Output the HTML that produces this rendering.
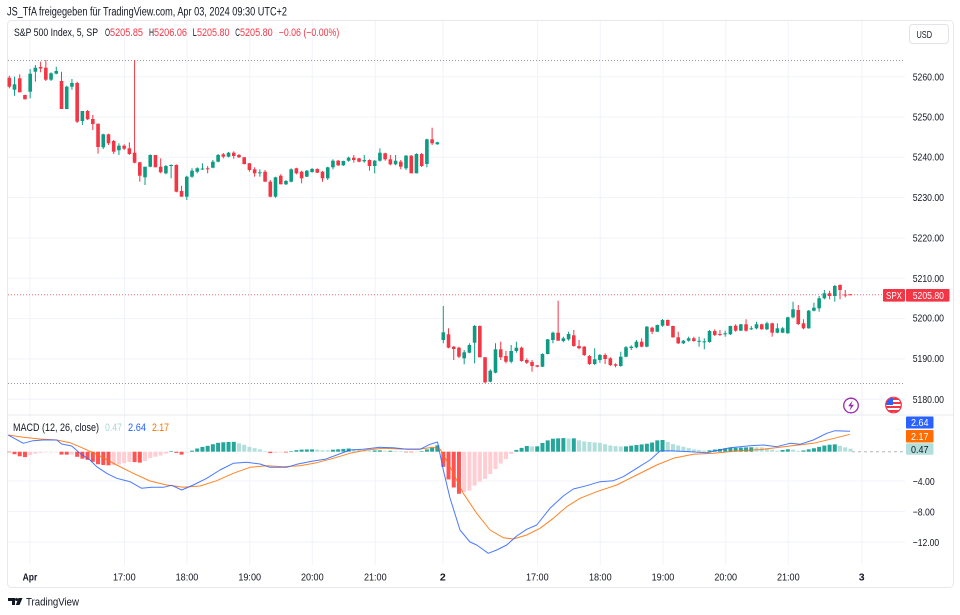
<!DOCTYPE html>
<html><head><meta charset="utf-8">
<style>
html,body{margin:0;padding:0;background:#fff;width:960px;height:615px;overflow:hidden}
svg{display:block;font-family:"Liberation Sans",sans-serif}
</style></head><body>
<svg id="c" width="960" height="615" viewBox="0 0 960 615" xmlns="http://www.w3.org/2000/svg">
<rect x="0" y="0" width="960" height="615" fill="#ffffff"/>
<rect x="7.5" y="20.5" width="946" height="567" rx="4" fill="#fff" stroke="#e6e8ee"/>
<g stroke="#f0f3fa" stroke-width="1">
<line x1="8" x2="905" y1="76.7" y2="76.7"/><line x1="8" x2="905" y1="117" y2="117"/><line x1="8" x2="905" y1="157.3" y2="157.3"/><line x1="8" x2="905" y1="197.6" y2="197.6"/><line x1="8" x2="905" y1="237.9" y2="237.9"/><line x1="8" x2="905" y1="278.3" y2="278.3"/><line x1="8" x2="905" y1="318.6" y2="318.6"/><line x1="8" x2="905" y1="358.9" y2="358.9"/><line x1="8" x2="905" y1="399.2" y2="399.2"/>
<line x1="8" x2="905" y1="481" y2="481"/><line x1="8" x2="905" y1="511.5" y2="511.5"/><line x1="8" x2="905" y1="542" y2="542"/>
<line x1="30" x2="30" y1="21" y2="565"/><line x1="124.5" x2="124.5" y1="21" y2="565"/><line x1="187" x2="187" y1="21" y2="565"/><line x1="249.7" x2="249.7" y1="21" y2="565"/><line x1="312.3" x2="312.3" y1="21" y2="565"/><line x1="375.3" x2="375.3" y1="21" y2="565"/><line x1="443" x2="443" y1="21" y2="565"/><line x1="537.5" x2="537.5" y1="21" y2="565"/><line x1="600.3" x2="600.3" y1="21" y2="565"/><line x1="663" x2="663" y1="21" y2="565"/><line x1="725.7" x2="725.7" y1="21" y2="565"/><line x1="788.3" x2="788.3" y1="21" y2="565"/><line x1="862" x2="862" y1="21" y2="565"/>
</g>
<line x1="8" x2="953" y1="415" y2="415" stroke="#e6e8ee"/>
<line x1="8" x2="905" y1="60.5" y2="60.5" stroke="#9598a1" stroke-dasharray="1,2"/>
<line x1="8" x2="905" y1="383.5" y2="383.5" stroke="#9598a1" stroke-dasharray="1,2"/>
<line x1="8" x2="883" y1="294.8" y2="294.8" stroke="#F23645" stroke-opacity="0.7" stroke-dasharray="1,2"/>
<line x1="852" x2="905" y1="451.7" y2="451.7" stroke="#b2b5be" stroke-dasharray="3,3"/>
<g id="dyn"></g>

<text x="7" y="15.5" font-size="11.5" fill="#131722" textLength="280" lengthAdjust="spacingAndGlyphs">JS_TfA freigegeben für TradingView.com, Apr 03, 2024 09:30 UTC+2</text>
<g font-size="11">
<text x="14" y="36" fill="#131722" textLength="84" lengthAdjust="spacingAndGlyphs">S&amp;P 500 Index, 5, SP</text>
<text x="105" y="36" fill="#131722" textLength="5" lengthAdjust="spacingAndGlyphs">O</text>
<text x="110" y="36" fill="#F23645" textLength="33" lengthAdjust="spacingAndGlyphs">5205.85</text>
<text x="149" y="36" fill="#131722" textLength="5" lengthAdjust="spacingAndGlyphs">H</text>
<text x="154" y="36" fill="#F23645" textLength="33" lengthAdjust="spacingAndGlyphs">5206.06</text>
<text x="192.7" y="36" fill="#131722" textLength="4" lengthAdjust="spacingAndGlyphs">L</text>
<text x="197" y="36" fill="#F23645" textLength="32.5" lengthAdjust="spacingAndGlyphs">5205.80</text>
<text x="235.3" y="36" fill="#131722" textLength="4.7" lengthAdjust="spacingAndGlyphs">C</text>
<text x="240" y="36" fill="#F23645" textLength="32.7" lengthAdjust="spacingAndGlyphs">5205.80</text>
<text x="278.7" y="36" fill="#F23645" textLength="60.6" lengthAdjust="spacingAndGlyphs">−0.06 (−0.00%)</text>
</g>
<g font-size="11">
<text x="13" y="431" fill="#131722" textLength="86" lengthAdjust="spacingAndGlyphs">MACD (12, 26, close)</text>
<text x="105" y="431" fill="#a8d8d2" textLength="17" lengthAdjust="spacingAndGlyphs">0.47</text>
<text x="128" y="431" fill="#2962FF" textLength="18" lengthAdjust="spacingAndGlyphs">2.64</text>
<text x="152" y="431" fill="#FF6D00" textLength="17" lengthAdjust="spacingAndGlyphs">2.17</text>
</g>
<g font-size="10.5" fill="#131722">
<text x="912.7" y="80.5" textLength="31.3" lengthAdjust="spacingAndGlyphs">5260.00</text>
<text x="912.7" y="120.5" textLength="31.3" lengthAdjust="spacingAndGlyphs">5250.00</text>
<text x="912.7" y="160.7" textLength="31.3" lengthAdjust="spacingAndGlyphs">5240.00</text>
<text x="912.7" y="201.2" textLength="31.3" lengthAdjust="spacingAndGlyphs">5230.00</text>
<text x="912.7" y="241.3" textLength="31.3" lengthAdjust="spacingAndGlyphs">5220.00</text>
<text x="912.7" y="281.8" textLength="31.3" lengthAdjust="spacingAndGlyphs">5210.00</text>
<text x="912.7" y="321.6" textLength="31.3" lengthAdjust="spacingAndGlyphs">5200.00</text>
<text x="912.7" y="362.2" textLength="31.3" lengthAdjust="spacingAndGlyphs">5190.00</text>
<text x="912.7" y="403.2" textLength="31.3" lengthAdjust="spacingAndGlyphs">5180.00</text>
<text x="912.7" y="485" textLength="22" lengthAdjust="spacingAndGlyphs">−4.00</text>
<text x="912.7" y="515.5" textLength="22" lengthAdjust="spacingAndGlyphs">−8.00</text>
<text x="912.7" y="546" textLength="26.5" lengthAdjust="spacingAndGlyphs">−12.00</text>
</g>
<rect x="909.5" y="24.5" width="39" height="19" rx="3" fill="#fff" stroke="#e0e3eb"/>
<text x="916.5" y="38" font-size="10.5" fill="#131722" textLength="15.5" lengthAdjust="spacingAndGlyphs">USD</text>
<rect x="883" y="289" width="22" height="12.6" rx="1" fill="#F23645"/>
<text x="886" y="298.8" font-size="10" fill="#fff" textLength="16" lengthAdjust="spacingAndGlyphs">SPX</text>
<rect x="906" y="289" width="43.5" height="12.6" rx="1" fill="#F23645"/>
<text x="912.7" y="298.8" font-size="10.5" fill="#fff" textLength="31.3" lengthAdjust="spacingAndGlyphs">5205.80</text>
<rect x="906" y="416.5" width="27.5" height="12" rx="1" fill="#2962FF"/>
<text x="911" y="426.2" font-size="10.5" fill="#fff" textLength="17.5" lengthAdjust="spacingAndGlyphs">2.64</text>
<rect x="906" y="430" width="27.5" height="12.5" rx="1" fill="#FF6D00"/>
<text x="911" y="440" font-size="10.5" fill="#fff" textLength="17.5" lengthAdjust="spacingAndGlyphs">2.17</text>
<rect x="906" y="443.3" width="27.5" height="11.5" rx="1" fill="#B2DFDB"/>
<text x="911" y="453" font-size="10.5" fill="#131722" textLength="17.5" lengthAdjust="spacingAndGlyphs">0.47</text>
<g font-size="10.5" fill="#131722" text-anchor="middle">
<text x="30" y="580.5" font-weight="bold" textLength="14.7" lengthAdjust="spacingAndGlyphs">Apr</text>
<text x="124.3" y="580.5" textLength="22.7" lengthAdjust="spacingAndGlyphs">17:00</text>
<text x="187" y="580.5" textLength="22.7" lengthAdjust="spacingAndGlyphs">18:00</text>
<text x="249.7" y="580.5" textLength="22.7" lengthAdjust="spacingAndGlyphs">19:00</text>
<text x="312.3" y="580.5" textLength="22.7" lengthAdjust="spacingAndGlyphs">20:00</text>
<text x="375.3" y="580.5" textLength="22.7" lengthAdjust="spacingAndGlyphs">21:00</text>
<text x="442.8" y="580.5" font-weight="bold">2</text>
<text x="537.3" y="580.5" textLength="22.7" lengthAdjust="spacingAndGlyphs">17:00</text>
<text x="600.3" y="580.5" textLength="22.7" lengthAdjust="spacingAndGlyphs">18:00</text>
<text x="663" y="580.5" textLength="22.7" lengthAdjust="spacingAndGlyphs">19:00</text>
<text x="725.7" y="580.5" textLength="22.7" lengthAdjust="spacingAndGlyphs">20:00</text>
<text x="788.3" y="580.5" textLength="22.7" lengthAdjust="spacingAndGlyphs">21:00</text>
<text x="861.7" y="580.5" font-weight="bold">3</text>
</g>
<circle cx="851" cy="405.5" r="7.3" fill="#fff" stroke="#9C27B0" stroke-width="1.3"/>
<path d="M852.6 400.5 L848.2 406.2 L850.9 406.2 L849.5 410.8 L853.9 404.8 L851.2 404.8 Z" fill="#9C27B0"/>
<defs><clipPath id="fl"><circle cx="893.5" cy="405" r="7.5"/></clipPath></defs>
<g clip-path="url(#fl)">
<rect x="885" y="397" width="18" height="17" fill="#fff"/>
<rect x="885" y="398" width="18" height="2" fill="#F23645"/>
<rect x="885" y="402" width="18" height="2" fill="#F23645"/>
<rect x="885" y="406" width="18" height="2" fill="#F23645"/>
<rect x="885" y="410" width="18" height="2" fill="#F23645"/>
<rect x="885" y="397" width="8" height="8" fill="#2962FF"/>
</g>
<circle cx="893.5" cy="405" r="7.8" fill="none" stroke="#F23645" stroke-width="1.2"/>
<g fill="#131722">
<path d="M8 598 H15 V605 H12 V601 H8 Z"/>
<circle cx="16.5" cy="599.5" r="1.5"/>
<path d="M18.5 598 H22.5 L19.5 605 H15.8 Z"/>
</g>
<text x="26" y="605.5" font-size="11" fill="#131722" textLength="53" lengthAdjust="spacingAndGlyphs">TradingView</text>
</svg>
<script>
(function(){
const NS="http://www.w3.org/2000/svg";
const g=document.getElementById('dyn');
function el(t,a){const e=document.createElementNS(NS,t);for(const k in a)e.setAttribute(k,a[k]);g.appendChild(e);return e;}
const d1=[
[77.7,86.7,75.7,88.3],[89.7,84.3,76.7,95.7],[78.3,92.3,74.3,92.3],[95,99.3,94.7,99.3],[91.7,73.7,69,98.3],
[71.7,67.7,65,81.7],[67,68.5,61.7,72.3],[67.7,79.7,60,81],[79.7,73.3,72.3,81],[73.7,71,66.7,74.3],
[81,109,71.7,109],[109,86.7,85.7,109],[86.7,83,79,89.7],[83,121.7,81.7,123],[121,111,111,125],
[111,119.3,110,120],[119,124,115,130],[123.7,147,123.7,153.7],[147.3,134.3,133.7,149],[134.3,143.3,133.7,145],
[141,151.7,140,154],[150.3,145.7,143.3,155],[145.7,148.7,144.3,150],[148.3,154,142.3,155],[152.7,162.7,60,163.3],
[162.3,175.7,162,181.7],[177.3,166.7,166.7,185],[166.7,155,154.3,167.3],[155,167.3,155,167.3],[166.7,172.3,158.3,173.3],
[173.3,166,165,174.3],[166,165,164.3,178.3],[165,191.7,164.3,192.3],[191,196.7,185.7,196.7],[196.7,176.7,175.7,200],
[176.7,170.7,168.3,177.7],[171.7,168.3,167.3,173.3],[169.5,168.5,163.3,170],[168.3,169.3,166,173.3],[167.7,161.7,160,168.3],
[161.7,155,154,162.3],[154.3,156.7,153,158.3],[156.7,152.7,152,157.3],[152.7,156,151.3,158.7],[155,157.3,154,158],
[157.3,164,157,164.5],[163.3,170,163,171.7],[169.3,173.3,167.3,176.7],[173.3,172.3,169.3,176.7],[171.7,181.7,170,181.7],
[181.7,196.7,180,197.3],[196.7,177.3,176.7,197.7],[175.7,184.3,174.3,184.3],[184.3,181,180,185],[181.7,169.3,168.3,182.3],
[168.3,173.3,167.7,174.3],[171.7,178.3,170.7,183.3],[176.7,170.7,170,177],[172,169,168,172.7],[169,172.7,168.3,173],
[171.7,178.3,171,181.7],[178.3,167.3,166.7,180],[167.3,160.7,159.3,169.3],[160.7,165.3,160,166],[165.3,161,160.7,166],
[160.7,157.7,156.7,161.7],[157.7,160,155,162.7],[158.3,161.7,158,162.3],[161.3,160,155,162.7],[160,166,159.3,170.7],
[166,160.7,160,173.3],[160.7,152.7,148.3,161.7],[153.3,159.3,152.7,160.7],[159.3,164.3,155,165.3],[164.3,160.7,155,165.3],
[161.7,166.7,160,169.3],[168.3,155.7,155,170],[155.7,173.3,155,173.3],[173.3,154,153.3,173.3],[154,166,153,167],
[164,139.3,138.7,167.3],[139.3,143.3,127.7,145],[144.3,142.3,141.7,144.7]];
const d2=[
[340,332.3,306,343.3],[334.3,347.7,328.3,348.3],[346.7,349,346,360],[347.7,356.7,346.7,358],[358.3,352.3,350,364.3],
[352.7,345,343.3,353.3],[342.7,326,325,363.3],[326,357.3,325.5,357.3],[357.3,382.3,357,383.3],[381.7,370.7,369.3,382.3],
[372.7,349.3,343.3,373.3],[349.3,357.3,341.7,360],[356,361.7,350.7,363.3],[361.7,351,345,363.3],[351,347.7,341.7,352.7],
[347.7,361,346.7,361.7],[360,362.7,358.3,364],[362,366,360,371.7],[365.3,366.7,365,367.3],[366.7,354,353.3,367],
[354,339.3,339,354.3],[340,332.7,331.7,343.3],[332.7,340.7,300.7,340.7],[341,338.3,336.7,342.3],[339.3,334,331.7,340.7],
[335.3,346,330,346.7],[346,348.3,340,349.3],[346.7,355,346,356],[356,364,355,365],[364,359.3,348.3,365],
[360,355,354,362.7],[355,359,353.3,364],[358.3,365,357.3,366],[364.3,365.7,363.3,367.3],[366,356.7,351.7,366.7],
[356.7,347.3,346,357.3],[348,346.7,345.3,350],[347.3,341.7,340,348.3],[341.7,346.7,338.3,347.3],[346.7,326.7,326,347.3],
[327.7,331.7,326.7,334],[331.7,325,324.7,332],[325.7,320,319,326.7],[320,325.7,319.5,326],[326,337.3,325.7,337.7],
[337.3,343.3,331.7,344],[343.3,340.7,340,344],[340.7,338.3,336.7,341.7],[338.3,341,336.7,341.7],[341.5,340.8,336.7,346.7],
[342,341.3,338.3,349.3],[342,331,330,342.7],[331,335,329.3,336],[334,335,330,336],[334.3,333.3,330.7,336.7],
[334.3,326,325.7,335],[325.7,330.7,324.3,331.7],[330.7,324.3,324,331],[324.3,330.7,319.3,331.7],[329.3,328.3,326,330],
[328.3,324.3,321.7,329.3],[324.3,329.3,323.7,329.7],[329.3,323.3,321.7,330],[323.3,332.7,322.7,336.7],[332.7,328.3,323.3,333.3],
[332.7,328.3,327,333],[333.3,317.3,316.7,333.7],[317.3,309.3,301.7,318.3],[310,324,305,325],[323.3,328.3,319.3,329.3],
[328.3,310.7,310,328.7],[310.7,307.7,302.7,311.3],[308.3,298.3,296,311.7],[298.3,293.3,290,299.3],[293.3,296,290.7,299.3],
[296,286,285,301.7],[285,290,284.3,299.3],[294.5,295.5,290,297.3],[294.3,294.7,294,295]];
const blue=[[8.3,435],[23.3,443.3],[33,440.7],[43,440],[56.7,440],[61.7,444],[71.7,446],[80,453.3],[90,460],[96.7,466.7],[106.7,473.3],[116.7,478.3],[130,481.7],[141.7,488.3],[151.7,487.3],[163.3,487.3],[171.7,485.3],[181.7,490],[193.3,485],[206.7,478.3],[220,470],[233.3,463.3],[246.7,462.3],[260,464],[270,467.3],[286.7,467.3],[296.7,464.3],[313.3,461],[325,459.3],[336.7,455],[350,450],[363.3,449.3],[380,447.3],[393.3,447.7],[406.7,449.3],[420,449.3],[430,444.3],[437.5,442],[443.3,470],[450,498],[460,530],[470,542],[476.7,545],[488.3,553.3],[496.7,550],[506.7,545],[516.7,536],[526.7,529.3],[536.7,525],[550,508.3],[563.3,496],[573.3,489],[586.7,485.7],[600,481.7],[613.3,480.7],[623.3,476.7],[636.7,468.3],[650,460],[660,451],[670,450.7],[690,451.7],[706.7,452.7],[730,447.7],[750,445.7],[763.3,445],[776.7,446.7],[790,443.3],[800,444.3],[813.3,440],[826.7,433.3],[835,430.7],[850,431.3]];
const orange=[[8.3,435],[23.3,437.3],[40,439],[56.7,440],[70,442.7],[83.3,448.3],[100,456],[116.7,465],[133.3,473.3],[150,481],[166.7,485],[183.3,487.3],[200,486],[216.7,480.7],[233.3,473.3],[250,467.3],[266.7,465.7],[283.3,466.7],[300,465.7],[316.7,462.7],[333.3,458.3],[350,453.3],[366.7,450],[383.3,448.3],[400,449],[420,449],[433.3,447.3],[440,449],[450,466.7],[463.3,493.3],[476.7,513.3],[490,530],[503.3,537.7],[513.3,539],[526.7,535],[540,528.3],[553.3,518.3],[566.7,506.7],[580,498.3],[596.7,491.7],[616.7,485],[636.7,475],[656.7,465],[673.3,458.3],[693.3,454.3],[713.3,453.3],[736.7,451],[763.3,449.3],[790,446],[813.3,443.3],[830,439.3],[850,434.3]];
function interp(p,x){if(x<=p[0][0])return p[0][1];for(let k=1;k<p.length;k++){if(x<=p[k][0]){const a=p[k-1],b=p[k];return a[1]+(b[1]-a[1])*(x-a[0])/(b[0]-a[0]);}}return p[p.length-1][1];}
const xs=[];
for(let i=0;i<d1.length;i++)xs.push(9.3+i*5.22);
for(let j=0;j<d2.length;j++)xs.push(443.3+j*5.22);
const Z=451.7;let prev=0;
xs.forEach((x,n)=>{const h=interp(orange,x)-interp(blue,x);let col;
if(h>=0)col=(h>=prev)?'#26A69A':'#B2DFDB';else col=(h<prev)?'#FF5252':'#FFCDD2';
prev=h;const hh=Math.max(Math.abs(h),0.6);
el('rect',{x:(x-2).toFixed(2),y:(h>=0?Z-hh:Z).toFixed(2),width:4,height:hh.toFixed(2),fill:col});});
el('polyline',{points:orange.map(p=>p.join(',')).join(' '),fill:'none',stroke:'#FF6D00','stroke-opacity':0.85,'stroke-width':1,'stroke-linejoin':'round'});
el('polyline',{points:blue.map(p=>p.join(',')).join(' '),fill:'none',stroke:'#2962FF','stroke-opacity':0.85,'stroke-width':1,'stroke-linejoin':'round'});
function draw(data,x0){data.forEach((c,i)=>{const x=x0+i*5.22;let [o,cl,h,l]=c;const up=cl<o;const col=up?'#0d9b83':'#F23645';
const top=Math.min(o,cl),bot=Math.max(o,cl);h=Math.min(h,top);l=Math.max(l,bot);
el('line',{x1:x.toFixed(2),x2:x.toFixed(2),y1:h,y2:l,stroke:col,'stroke-width':1});
const bh=Math.max(bot-top,1);el('rect',{x:(x-1.8).toFixed(2),y:top,width:3.6,height:bh,fill:col});});}
draw(d1,9.3);draw(d2,443.3);
})();
</script>
</body></html>
